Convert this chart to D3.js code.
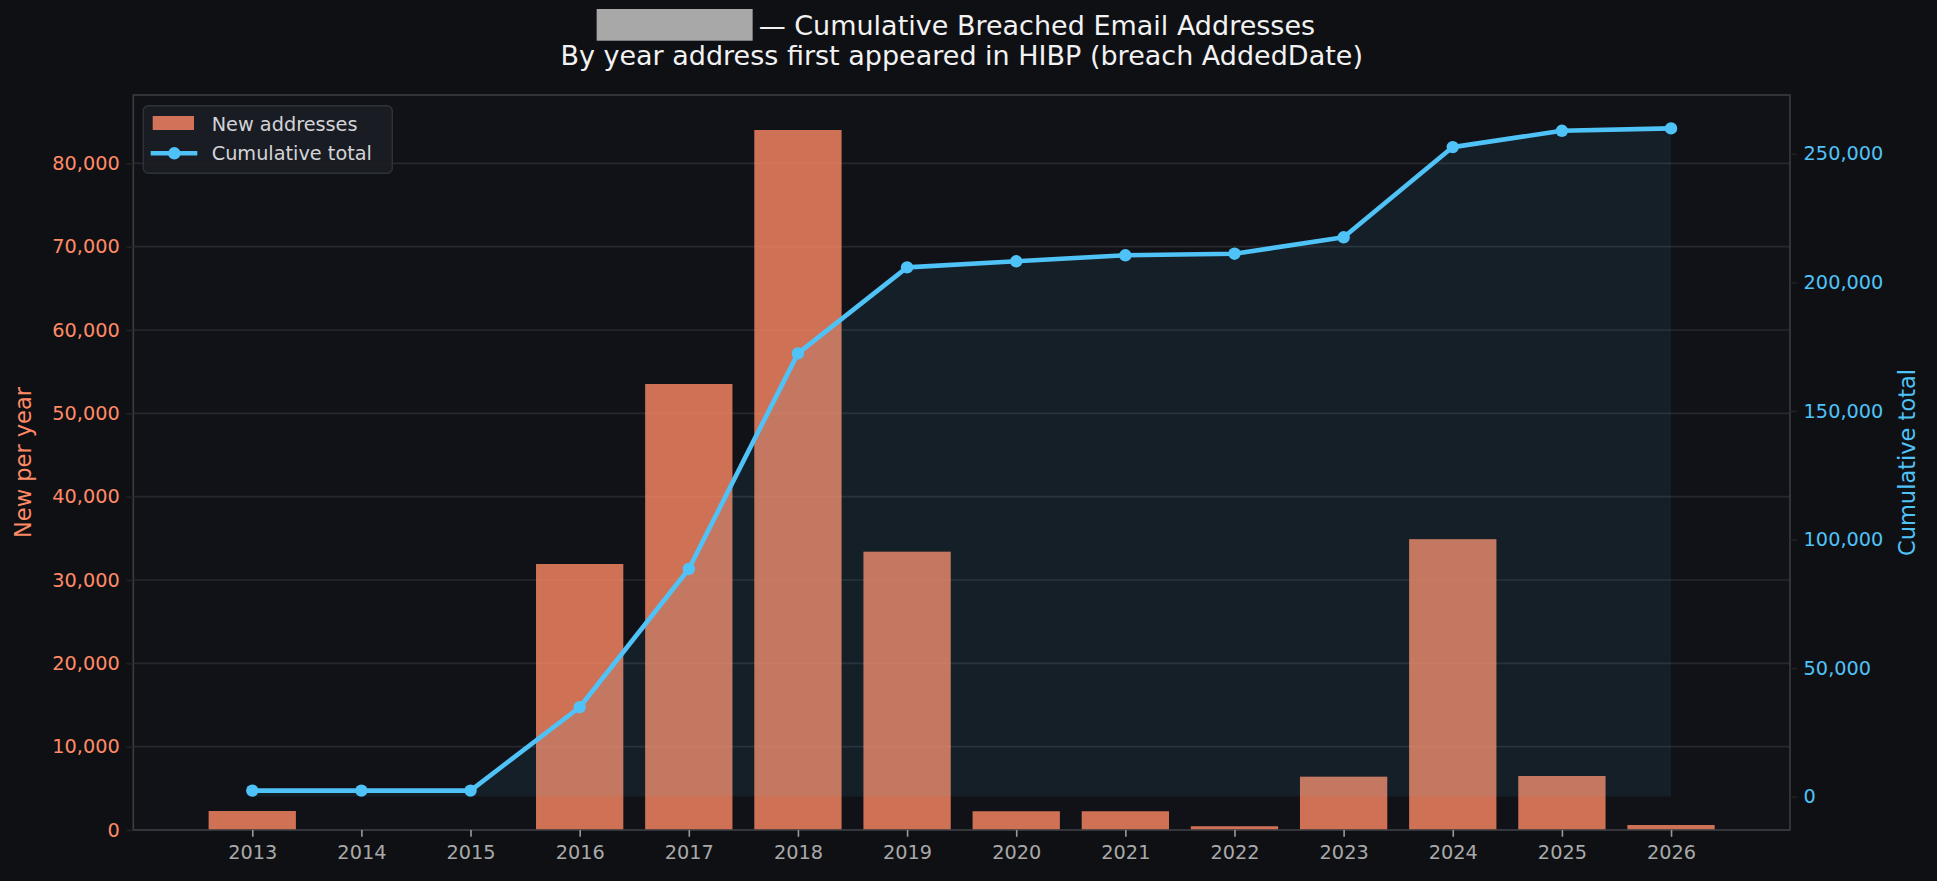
<!DOCTYPE html>
<html>
<head>
<meta charset="utf-8">
<script src="https://cdn.jsdelivr.net/npm/d3@7"></script>
<style>
  html, body { margin: 0; padding: 0; background: #0f1014; }
  svg { display: block; font-family: "DejaVu Sans", sans-serif; }
</style>
</head>
<body>
<svg id="chart" width="1937" height="881"></svg>
<script>
// data
const years = [2013, 2014, 2015, 2016, 2017, 2018, 2019, 2020, 2021, 2022, 2023, 2024, 2025, 2026];
const newPerYear = [2280, 0, 0, 31920, 53520, 84000, 33400, 2250, 2250, 450, 6400, 34900, 6480, 600];
const cumulativeTotal = [2330, 2330, 2330, 34760, 88530, 172390, 205830, 208200, 210530, 211150, 217520, 252600, 258940, 259870];
const leftTicks = [0, 10000, 20000, 30000, 40000, 50000, 60000, 70000, 80000];
const rightTicks = [0, 50000, 100000, 150000, 200000, 250000];

const W = 1937, H = 881;
const margin = { left: 133.3, right: 1790, top: 95, bottom: 830 };
const orange = '#ff8a65';
const blue = '#4fc3f7';
const fmt = d3.format(',');

const svg = d3.select('#chart');
svg.append('rect').attr('width', W).attr('height', H).attr('fill', '#0f1014');

// scales, matplotlib-like 5% margins
const barW = 0.8;
const xr = [d3.min(years) - barW / 2, d3.max(years) + barW / 2];
const xpad = (xr[1] - xr[0]) * 0.05;
const x = d3.scaleLinear().domain([xr[0] - xpad, xr[1] + xpad]).range([margin.left, margin.right]);

const yL = d3.scaleLinear().domain([0, d3.max(newPerYear) * 1.05]).range([margin.bottom, margin.top]);

const cMax = d3.max(cumulativeTotal);
const yR = d3.scaleLinear().domain([-cMax * 0.05, cMax * 1.05]).range([margin.bottom, margin.top]);

// axes background
svg.append('rect')
  .attr('x', margin.left).attr('y', margin.top)
  .attr('width', margin.right - margin.left).attr('height', margin.bottom - margin.top)
  .attr('fill', '#111217');

// gridlines (left axis only)
svg.append('g')
  .selectAll('line')
  .data(leftTicks)
  .join('line')
    .attr('x1', margin.left).attr('x2', margin.right)
    .attr('y1', d => yL(d)).attr('y2', d => yL(d))
    .attr('stroke', '#26282e').attr('stroke-width', 1.6);

// bars
svg.append('g')
  .selectAll('rect')
  .data(years.map((y, i) => ({ year: y, v: newPerYear[i] })))
  .join('rect')
    .attr('x', d => x(d.year - barW / 2))
    .attr('width', d => x(d.year + barW / 2) - x(d.year - barW / 2))
    .attr('y', d => yL(d.v))
    .attr('height', d => yL(0) - yL(d.v))
    .attr('fill', orange).attr('fill-opacity', 0.8);

// cumulative area + line
const cum = years.map((y, i) => ({ year: y, v: cumulativeTotal[i] }));
svg.append('path')
  .datum(cum)
  .attr('d', d3.area().x(d => x(d.year)).y0(yR(0)).y1(d => yR(d.v)))
  .attr('fill', blue).attr('fill-opacity', 0.08);

svg.append('path')
  .datum(cum)
  .attr('d', d3.line().x(d => x(d.year)).y(d => yR(d.v)))
  .attr('fill', 'none').attr('stroke', blue).attr('stroke-width', 4.6)
  .attr('stroke-linejoin', 'round');

svg.append('g')
  .selectAll('circle')
  .data(cum)
  .join('circle')
    .attr('cx', d => x(d.year)).attr('cy', d => yR(d.v)).attr('r', 6.2)
    .attr('fill', blue);

// spines
svg.append('rect')
  .attr('x', margin.left).attr('y', margin.top)
  .attr('width', margin.right - margin.left).attr('height', margin.bottom - margin.top)
  .attr('fill', 'none').attr('stroke', '#3a3c42').attr('stroke-width', 1.6);

// axes
const tickLen = 6.8;
const axLeft = svg.append('g').attr('transform', `translate(${margin.left},0)`)
  .call(d3.axisLeft(yL).tickValues(leftTicks).tickFormat(fmt).tickSize(tickLen).tickPadding(6.8));
const axRight = svg.append('g').attr('transform', `translate(${margin.right},0)`)
  .call(d3.axisRight(yR).tickValues(rightTicks).tickFormat(fmt).tickSize(tickLen).tickPadding(6.8));
const axBottom = svg.append('g').attr('transform', `translate(0,${margin.bottom})`)
  .call(d3.axisBottom(x).tickValues(years).tickFormat(d3.format('d')).tickSize(tickLen).tickPadding(8.5));

[axLeft, axRight, axBottom].forEach(g => {
  g.select('.domain').remove();
  g.attr('font-family', '"DejaVu Sans", sans-serif').attr('font-size', 19.3);
});
axLeft.selectAll('line').attr('stroke', '#222').attr('stroke-width', 1.6);
axRight.selectAll('line').attr('stroke', '#222').attr('stroke-width', 1.6);
axBottom.selectAll('line').attr('stroke', '#9a9a9a').attr('stroke-width', 1.6);
axLeft.selectAll('text').attr('fill', orange);
axRight.selectAll('text').attr('fill', blue);
axBottom.selectAll('text').attr('fill', '#a9a9a9');

// axis titles
const midY = (margin.top + margin.bottom) / 2;
svg.append('text')
  .attr('transform', `translate(31,${midY}) rotate(-90)`)
  .attr('text-anchor', 'middle').attr('font-size', 22.5).attr('fill', orange)
  .text('New per year');
svg.append('text')
  .attr('transform', `translate(1915,${midY}) rotate(-90)`)
  .attr('text-anchor', 'middle').attr('font-size', 22.5).attr('fill', blue)
  .text('Cumulative total');

// title
const cx = (margin.left + margin.right) / 2;
svg.append('rect')
  .attr('x', cx - 365).attr('y', 9).attr('width', 156).attr('height', 31.7)
  .attr('fill', '#a8a8a8');
svg.append('text')
  .attr('x', cx - 203).attr('y', 35)
  .attr('font-size', 27).attr('fill', '#f2f2f2')
  .text('\u2014 Cumulative Breached Email Addresses');
svg.append('text')
  .attr('x', cx).attr('y', 65).attr('text-anchor', 'middle')
  .attr('font-size', 27).attr('fill', '#f2f2f2')
  .text('By year address first appeared in HIBP (breach AddedDate)');

// legend
const lg = svg.append('g');
lg.append('rect')
  .attr('x', 143.3).attr('y', 105.7).attr('width', 249).attr('height', 67.6)
  .attr('rx', 5).attr('fill', '#1b1d24').attr('fill-opacity', 0.95)
  .attr('stroke', '#2f3239').attr('stroke-width', 1.4);
lg.append('rect')
  .attr('x', 152.7).attr('y', 116).attr('width', 41.3).attr('height', 14)
  .attr('fill', orange).attr('fill-opacity', 0.8);
lg.append('line')
  .attr('x1', 150.7).attr('x2', 197.3).attr('y1', 153.3).attr('y2', 153.3)
  .attr('stroke', blue).attr('stroke-width', 4.6);
lg.append('circle').attr('cx', 174.3).attr('cy', 153.3).attr('r', 6.2).attr('fill', blue);
lg.append('text').attr('x', 211.7).attr('y', 130.5).attr('font-size', 19.3).attr('fill', '#d2d4d8')
  .text('New addresses');
lg.append('text').attr('x', 211.7).attr('y', 159.8).attr('font-size', 19.3).attr('fill', '#d2d4d8')
  .text('Cumulative total');
</script>
</body>
</html>
